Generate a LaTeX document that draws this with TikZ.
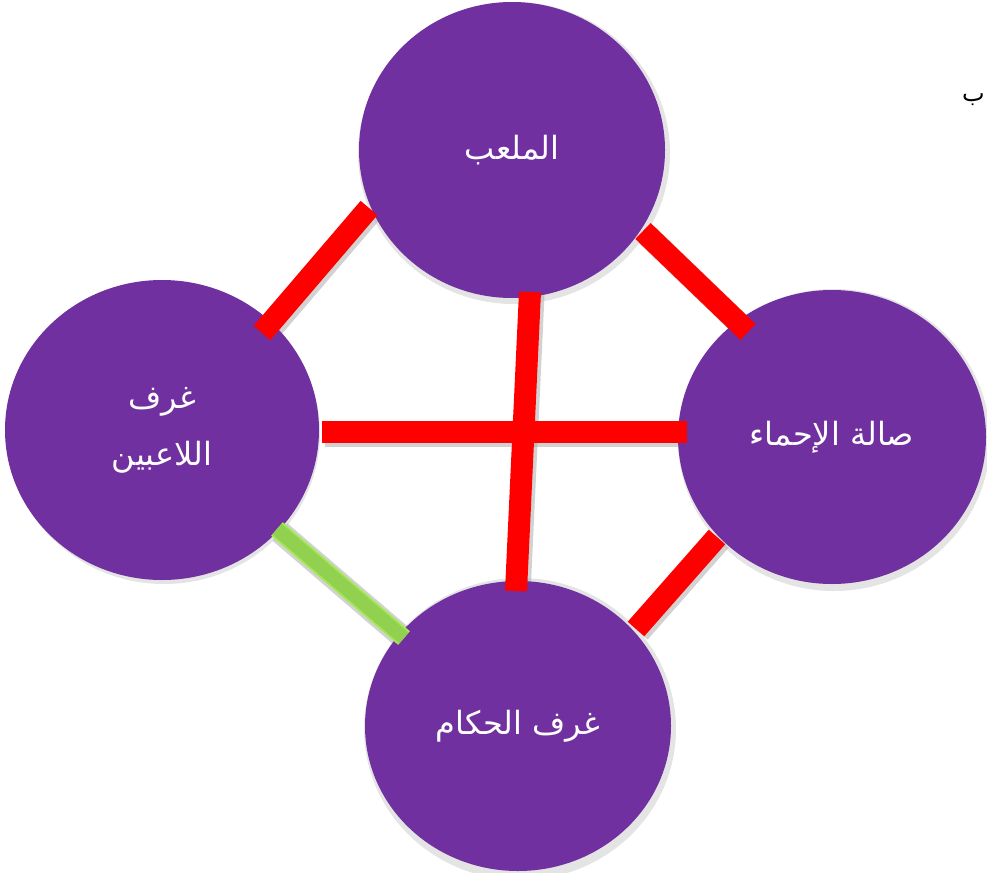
\documentclass[tikz,border=0pt]{standalone}
\usepackage{fontspec}
\usetikzlibrary{calc,shapes.geometric}
\TeXXeTstate=1
\newfontfamily\arabicfont[Script=Arabic]{DejaVu Sans}
\definecolor{purp}{RGB}{112,48,160}
\definecolor{redline}{RGB}{255,0,0}
\definecolor{greenfill}{RGB}{146,208,80}
\definecolor{greenedge}{RGB}{165,232,85}
\pgfdeclarelayer{background}
\pgfsetlayers{background,main}
\tikzset{
  room/.style={ellipse, fill=purp, inner sep=0pt, outer sep=0pt, text=white,
    font=\arabicfont\fontsize{32}{57}\selectfont, align=center},
  roomshadow/.style={ellipse, fill=black!30, opacity=0.35, inner sep=0pt, outer sep=0pt},
  link/.style={line width=22pt, draw=redline},
  goodlink/.style={line width=18pt, draw=greenedge},
  goodlinkinner/.style={line width=14pt, draw=greenfill},
  linkshadow/.style={line width=23pt, draw=black!35, opacity=0.5},
}
\begin{document}
\begin{tikzpicture}[x=1pt,y=-1pt]
\useasboundingbox (0,0) rectangle (987,872);
% circles
\node[room, minimum width=306pt, minimum height=296pt] (T) at (512,150) {\beginR الملعب\endR};
\node[room, minimum width=314pt, minimum height=300pt] (L) at (162,430) {\beginR غرف\endR\\\beginR اللاعبين\endR};
\node[room, minimum width=308pt, minimum height=294pt] (R) at (832,437) {\beginR صالة الإحماء\endR};
\node[room, minimum width=306pt, minimum height=290pt] (B) at (518,726) {\beginR غرف الحكام\endR};
% small text at the top right
\node[anchor=east, font=\arabicfont\fontsize{24}{28}\selectfont, text=black, inner sep=0pt] (tr) at (985,100) {\beginR ب\endR};
% connector end points
\coordinate (tl1) at ($(T)+(-143,58)$);
\coordinate (tl2) at ($(L)+(100,-97)$);
\coordinate (tr1) at ($(T)+(131,81)$);
\coordinate (tr2) at ($(R)+(-84,-105)$);
\coordinate (lr1) at ($(L)+(160,2)$);
\coordinate (lr2) at ($(R)+(-145,-5)$);
\coordinate (tb1) at ($(T)+(18,142)$);
\coordinate (tb2) at ($(B)+(-2,-135)$);
\coordinate (rb1) at ($(R)+(-115,100)$);
\coordinate (rb2) at ($(B)+(118,-97)$);
\coordinate (lb1) at ($(L)+(115,99)$);
\coordinate (lb2) at ($(B)+(-114,-88)$);
% shadows
\begin{pgfonlayer}{background}
  \foreach \a/\b in {tl1/tl2, tr1/tr2, lr1/lr2, tb1/tb2, rb1/rb2, lb1/lb2}
    \draw[linkshadow] ($(\a)+(3,3)$) -- ($(\b)+(3,3)$);
  \foreach \n in {T,L,R,B}
    \node[roomshadow, minimum width=312pt, minimum height=302pt] at ($(\n)+(2,3)$) {};
\end{pgfonlayer}
% connectors
\draw[link] (tl1) -- (tl2);
\draw[link] (tr1) -- (tr2);
\draw[link] (lr1) -- (lr2);
\draw[link] (tb1) -- (tb2);
\draw[link] (rb1) -- (rb2);
\draw[goodlink] (lb1) -- (lb2);
\draw[goodlinkinner] (lb1) -- (lb2);
\end{tikzpicture}
\end{document}
